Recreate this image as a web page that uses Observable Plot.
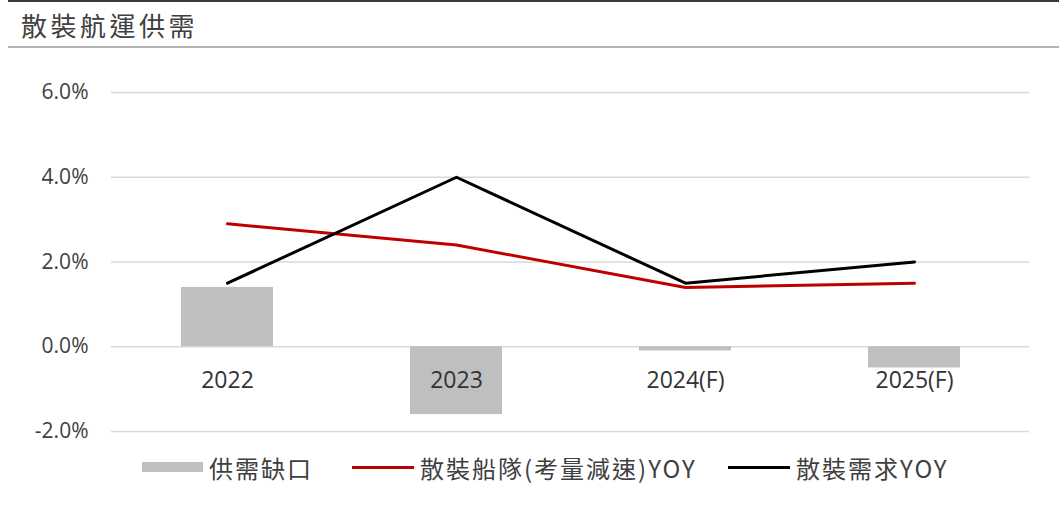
<!DOCTYPE html>
<html>
<head>
<meta charset="utf-8">
<script src="https://cdn.jsdelivr.net/npm/d3@7"></script>
<script src="https://cdn.jsdelivr.net/npm/@observablehq/plot@0.6"></script>
<style>
  html, body { margin: 0; padding: 0; background: #fff; }
  #wrap { position: relative; width: 1059px; height: 515px; overflow: hidden; font-family: "Noto Sans CJK TC", "Noto Sans", sans-serif; }
  #topline { position: absolute; left: 8px; right: 0; top: 0; height: 2px; background: #3a3a3a; }
  #title { position: absolute; left: 21px; top: 4px; height: 42px; line-height: 42px; font-size: 26px; letter-spacing: 3.5px; color: #404040; }
  #titleline { position: absolute; left: 8px; right: 0; top: 46px; height: 2px; background: #b4b4b4; }
  #chart { position: absolute; left: 0; top: 50px; }
  #legend { position: absolute; left: 0; top: 453px; width: 1059px; height: 28px; font-size: 24px; letter-spacing: 2px; color: #404040; }
  .item { position: absolute; top: 0; height: 28px; display: flex; align-items: center; white-space: nowrap; }
  .sw { margin-right: 6px; }
</style>
</head>
<body>
<div id="wrap">
  <div id="topline"></div>
  <div id="title">散裝航運供需</div>
  <div id="titleline"></div>
  <div id="chart"></div>
  <div id="legend"></div>
</div>
<script>
const categories = ["2022", "2023", "2024(F)", "2025(F)"];
const gap = [0.014, -0.016, -0.001, -0.005];
const supply = [0.029, 0.024, 0.014, 0.015];
const demand = [0.015, 0.040, 0.015, 0.020];
const yTicks = [-0.02, 0, 0.02, 0.04, 0.06];
const seriesNames = ["供需缺口", "散裝船隊(考量減速)YOY", "散裝需求YOY"];
const seriesColors = ["#bfbfbf", "#c00000", "#000000"];

const rows = categories.map((c, i) => ({cat: c, gap: gap[i], supply: supply[i], demand: demand[i]}));
const pct = d => d3.format(".1%")(d).replace("\u2212", "-");

const chart = Plot.plot({
  width: 1059,
  height: 400,
  marginLeft: 111,
  marginRight: 30,
  marginTop: 42,
  marginBottom: 19,
  style: {fontFamily: "'Open Sans', 'Noto Sans', sans-serif", fontSize: "21px", color: "#404040", background: "transparent"},
  x: {domain: categories, paddingInner: 0.6, paddingOuter: 0.3, axis: null},
  y: {domain: [-0.02, 0.06], axis: null},
  marks: [
    Plot.ruleY(yTicks, {stroke: "#d9d9d9", strokeWidth: 1.5}),
    Plot.barY(rows, {x: "cat", y: "gap", fill: seriesColors[0]}),
    Plot.text(rows, {x: "cat", y: () => 0, dy: 34, text: "cat", fontSize: 23, fill: "#333"}),
    Plot.line(rows, {x: "cat", y: "supply", stroke: seriesColors[1], strokeWidth: 3}),
    Plot.line(rows, {x: "cat", y: "demand", stroke: seriesColors[2], strokeWidth: 3}),
    Plot.axisY({ticks: yTicks, tickFormat: pct, tickSize: 0, tickPadding: 23, fontSize: 21, fill: "#404040"})
  ]
});
document.getElementById("chart").appendChild(chart);

const legend = document.getElementById("legend");
const legendLeft = [142, 352, 728];
seriesNames.forEach((name, i) => {
  const item = document.createElement("div");
  item.className = "item";
  item.style.left = legendLeft[i] + "px";
  const sw = document.createElement("span");
  sw.className = "sw";
  sw.style.display = "inline-block";
  sw.style.width = i === 0 ? "61px" : "62px";
  sw.style.height = i === 0 ? "10px" : "3px";
  sw.style.background = seriesColors[i];
  const t = document.createElement("span");
  t.textContent = name;
  item.appendChild(sw);
  item.appendChild(t);
  legend.appendChild(item);
});
</script>
</body>
</html>
